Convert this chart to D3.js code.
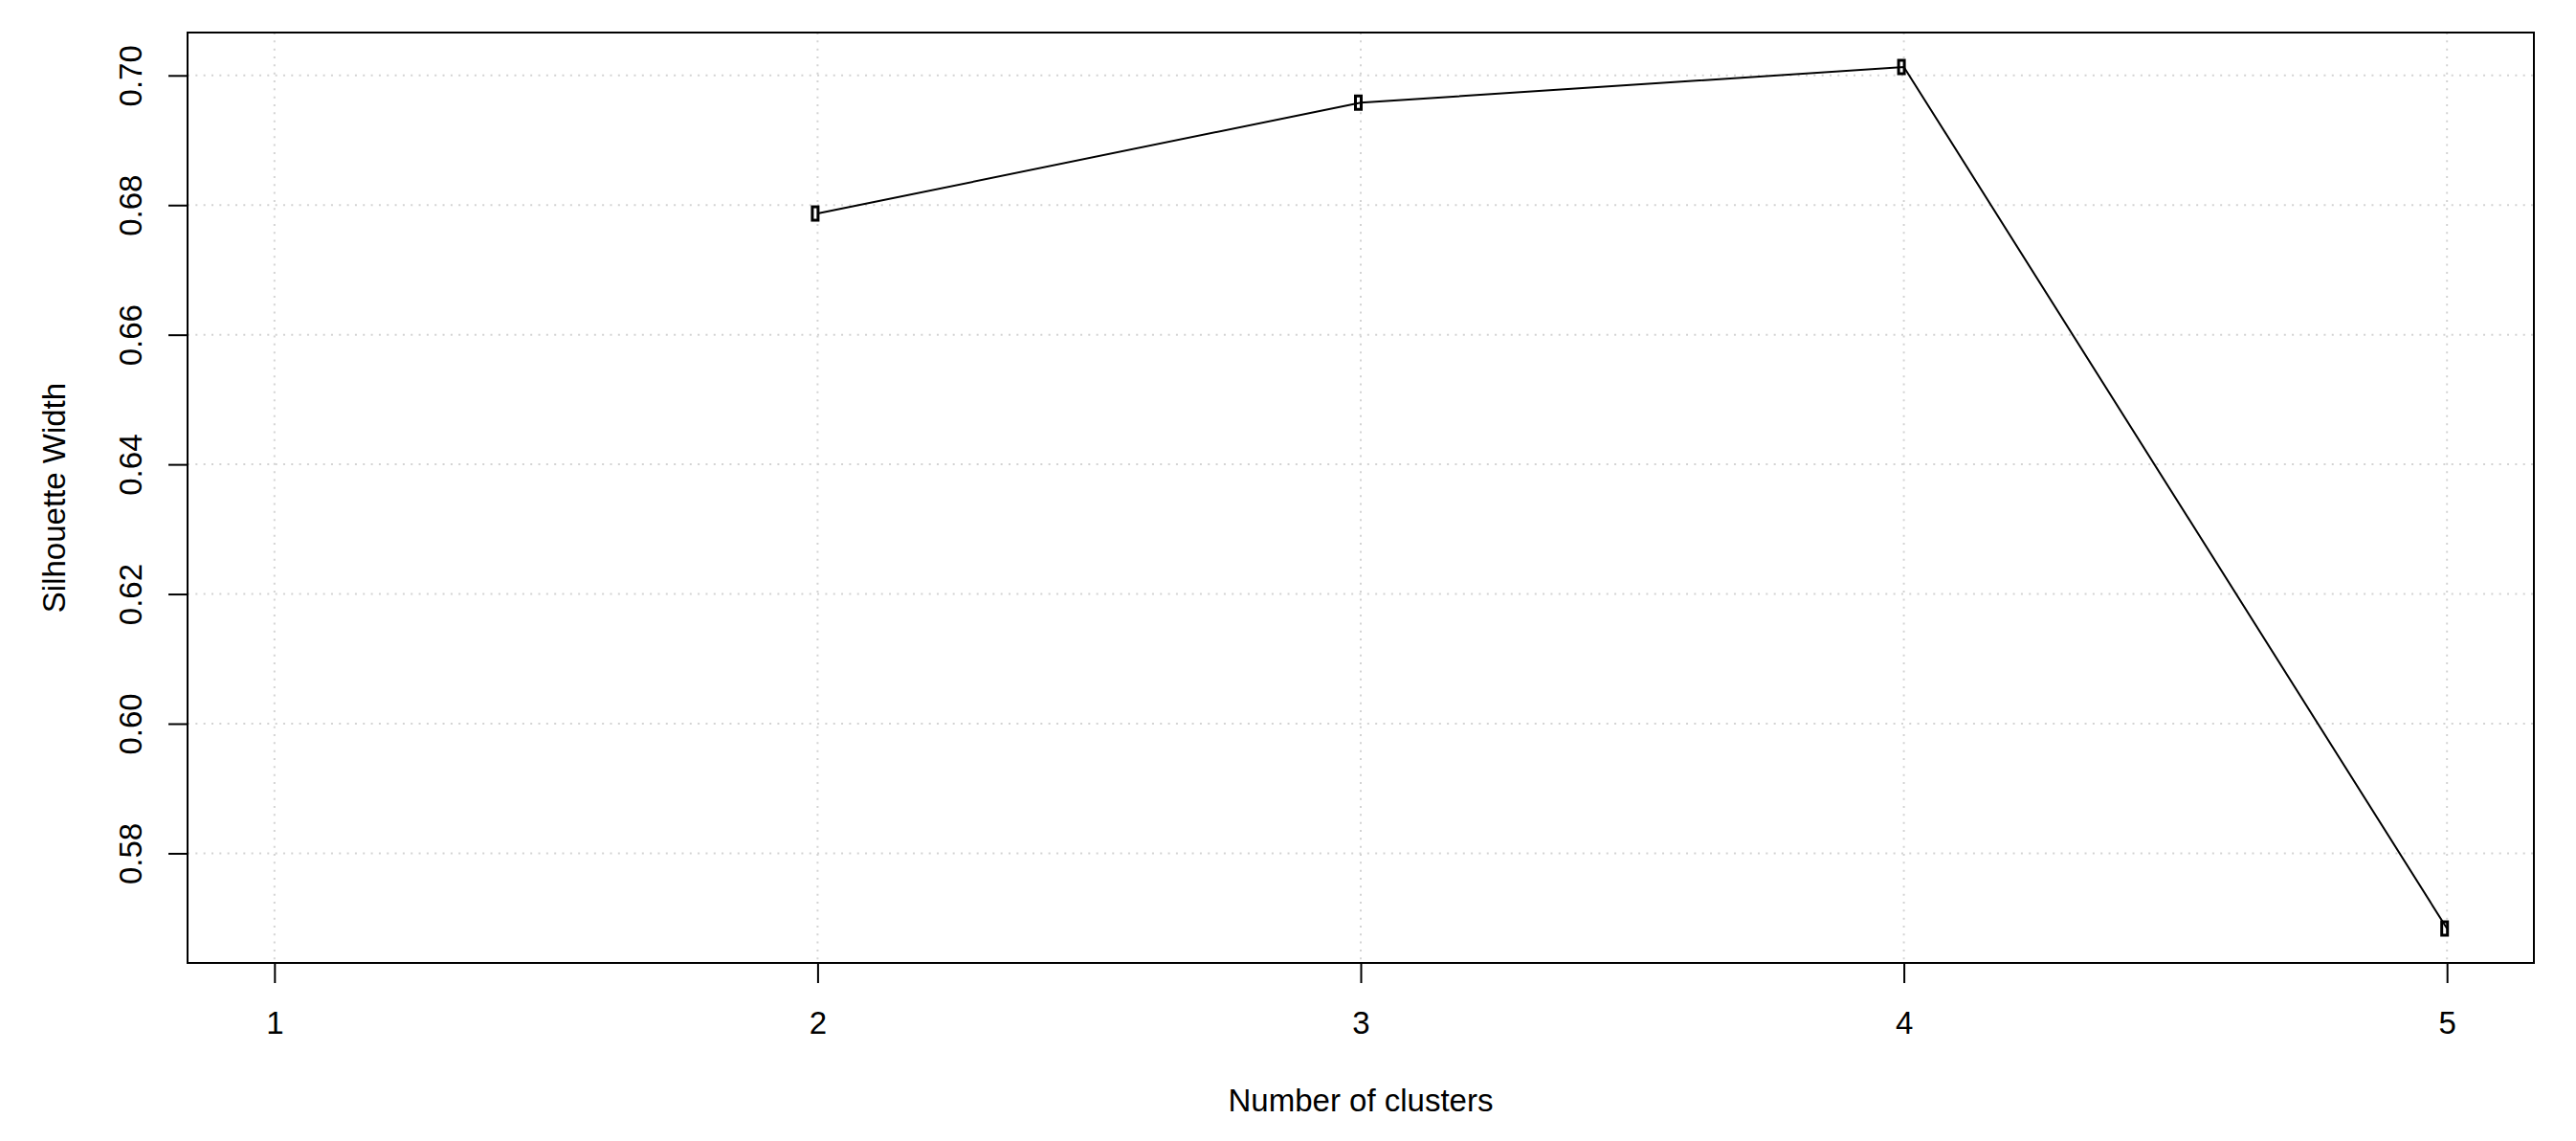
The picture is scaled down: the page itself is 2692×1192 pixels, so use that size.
<!DOCTYPE html>
<html>
<head>
<meta charset="utf-8">
<script src="https://cdn.jsdelivr.net/npm/d3@7"></script>
<style>
  html, body { margin: 0; padding: 0; background: #fff; }
  svg { display: block; }
  text { font-family: "Liberation Sans", Arial, Helvetica, sans-serif; fill: #000; }
</style>
</head>
<body>
<svg id="chart" width="2692" height="1192"></svg>
<script>
// ---- data ----
const clusters = [1, 2, 3, 4, 5];
const silhouette = [null, 0.6787, 0.6958, 0.7013, 0.5684];
const xTicks = [1, 2, 3, 4, 5];
const yTicks = [0.58, 0.60, 0.62, 0.64, 0.66, 0.68, 0.70];
const xTitle = "Number of clusters";
const yTitle = "Silhouette Width";

// ---- layout ----
const W = 2692, H = 1192;
const plot = { left: 196, right: 2648, top: 34, bottom: 1006 };

const svg = d3.select("#chart");

const pts = clusters.map((c, i) => ({ x: c, y: silhouette[i] })).filter(d => d.y !== null);

const xExt = d3.extent(clusters);
const xPad = (xExt[1] - xExt[0]) * 0.04;
const yExt = d3.extent(pts, d => d.y);
const yPad = (yExt[1] - yExt[0]) * 0.04;

const x = d3.scaleLinear().domain([xExt[0] - xPad, xExt[1] + xPad]).range([plot.left, plot.right]);
const y = d3.scaleLinear().domain([yExt[0] - yPad, yExt[1] + yPad]).range([plot.bottom, plot.top]);

// grid
const grid = svg.append("g");
grid.selectAll("line.gx").data(xTicks).join("line")
  .attr("x1", d => x(d)).attr("x2", d => x(d))
  .attr("y1", plot.top).attr("y2", plot.bottom)
  .attr("stroke", "#d3d3d3").attr("stroke-width", 2).attr("stroke-dasharray", "2 6.33");
grid.selectAll("line.gy").data(yTicks).join("line")
  .attr("y1", d => y(d)).attr("y2", d => y(d))
  .attr("x1", plot.left).attr("x2", plot.right)
  .attr("stroke", "#d3d3d3").attr("stroke-width", 2).attr("stroke-dasharray", "2 6.33");

// line
svg.append("path")
  .datum(pts)
  .attr("fill", "none")
  .attr("stroke", "#000")
  .attr("stroke-width", 2)
  .attr("d", d3.line().x(d => x(d.x)).y(d => y(d.y)));

// markers
svg.append("g").selectAll("rect").data(pts).join("rect")
  .attr("x", d => x(d.x) - 2.5 - 3)
  .attr("y", d => y(d.y) - 7)
  .attr("width", 6)
  .attr("height", 14)
  .attr("fill", "none")
  .attr("stroke", "#000")
  .attr("stroke-width", 3);

// box
svg.append("rect")
  .attr("x", plot.left).attr("y", plot.top)
  .attr("width", plot.right - plot.left).attr("height", plot.bottom - plot.top)
  .attr("fill", "none").attr("stroke", "#000").attr("stroke-width", 2);

// x axis
const xAxis = d3.axisBottom(x).tickValues(xTicks).tickSize(21).tickPadding(0).tickFormat(d3.format("d"));
const gx = svg.append("g").attr("transform", `translate(0,${plot.bottom})`).call(xAxis);
gx.select(".domain").remove();
gx.selectAll(".tick line").attr("stroke", "#000").attr("stroke-width", 2);
gx.selectAll(".tick text")
  .attr("y", 74).attr("dy", null)
  .style("font-size", "33px")
  .style("font-family", '"Liberation Sans", Arial, sans-serif')
  .attr("fill", "#000");

// y axis
const yAxis = d3.axisLeft(y).tickValues(yTicks).tickSize(20).tickFormat(d3.format(".2f"));
const gy = svg.append("g").attr("transform", `translate(${plot.left},0)`).call(yAxis);
gy.select(".domain").remove();
gy.selectAll(".tick line").attr("stroke", "#000").attr("stroke-width", 2);
gy.selectAll(".tick text")
  .attr("x", null).attr("dy", null)
  .attr("text-anchor", "middle")
  .attr("transform", "translate(-48,0) rotate(-90)")
  .style("font-size", "33px")
  .style("font-family", '"Liberation Sans", Arial, sans-serif')
  .attr("fill", "#000");

// titles
svg.append("text")
  .attr("x", (plot.left + plot.right) / 2)
  .attr("y", 1161)
  .attr("text-anchor", "middle")
  .style("font-size", "33px")
  .text(xTitle);

svg.append("text")
  .attr("transform", `translate(68,${(plot.top + plot.bottom) / 2}) rotate(-90)`)
  .attr("text-anchor", "middle")
  .style("font-size", "33px")
  .text(yTitle);
</script>
</body>
</html>
